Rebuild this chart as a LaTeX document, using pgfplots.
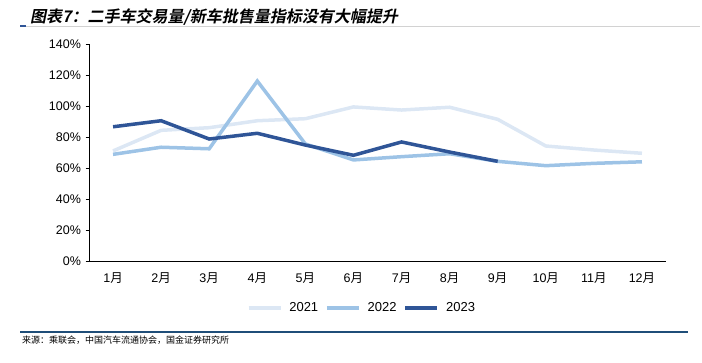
\documentclass[border=0pt]{standalone}
\usepackage{fontspec}
\setmainfont{Liberation Sans}
\newfontfamily\cjk{Noto Sans CJK SC}
\newfontfamily\cjktitle[FakeSlant=0.2]{Noto Sans CJK SC Bold}
\usepackage{pgfplots}
\pgfplotsset{compat=1.18}
\definecolor{c21}{HTML}{DCE7F4}
\definecolor{c22}{HTML}{9DC3E6}
\definecolor{c23}{HTML}{2F5597}
\definecolor{rule}{HTML}{1F4E79}
\begin{document}
\begin{tikzpicture}[x=1pt,y=1pt]
\path[use as bounding box] (0,0) rectangle (702,362);
\node[anchor=west, inner sep=0pt] at (30,345) {\fontsize{16}{18}\cjktitle 图表7：二手车交易量/新车批售量指标没有大幅提升};
\draw[color=gray!35, line width=0.6pt] (22,336) -- (700,336);
\draw[color=c23, line width=1.2pt] (20,336) -- (26,336);
\draw[color=rule, line width=1.6pt] (20,30) -- (688,30);
\node[anchor=west, inner sep=0pt] at (22,22) {\fontsize{9}{10}\cjk 来源：乘联会，中国汽车流通协会，国金证券研究所};
\begin{axis}[
  at={(89pt,101pt)}, anchor=south west,
  scale only axis, width=577pt, height=217pt,
  xmin=0.5, xmax=12.5, ymin=0, ymax=140,
  axis x line=bottom, axis y line=left,
  axis line style={-, black, line width=0.8pt},
  xtick={1,...,12},
  xticklabels={1{\cjk 月},2{\cjk 月},3{\cjk 月},4{\cjk 月},5{\cjk 月},6{\cjk 月},7{\cjk 月},8{\cjk 月},9{\cjk 月},10{\cjk 月},11{\cjk 月},12{\cjk 月}},
  major x tick style={draw=none},
  extra x ticks={1.5,2.5,...,11.5,12.5},
  extra x tick labels={},
  extra x tick style={major tick length=3.5pt, tick align=inside, tick style={black, line width=0.8pt}},
  ytick={0,20,...,140},
  yticklabel={\pgfmathprintnumber{\tick}\%},
  y tick style={black, line width=0.8pt},
  tick align=outside, major tick length=3.5pt,
  ticklabel style={font=\fontsize{12.5}{14}\selectfont},
  /pgf/number format/assume math mode=true,
  xticklabel style={yshift=-5pt},
  yticklabel style={xshift=-1pt},
  legend style={at={(0.473,-0.2166)}, anchor=center, draw=none, legend columns=3,
    font=\fontsize{13}{14}\selectfont, column sep=5pt},
  legend image code/.code={\draw[#1] (0pt,0pt) -- (32pt,0pt);},
  clip=false,
]
\addplot[c21, line width=3.5pt] coordinates {(1,71.0) (2,84.3) (3,86.0) (4,90.5) (5,91.8) (6,99.4) (7,97.4) (8,99.2) (9,91.4) (10,74.2) (11,71.6) (12,69.5)};
\addplot[c22, line width=3.5pt] coordinates {(1,68.8) (2,73.4) (3,72.4) (4,116.1) (5,75.5) (6,65.2) (7,67.3) (8,69.2) (9,64.3) (10,61.5) (11,63.0) (12,64.0)};
\addplot[c23, line width=3.5pt] coordinates {(1,86.6) (2,90.5) (3,78.7) (4,82.4) (5,74.8) (6,68.2) (7,76.8) (8,70.3) (9,64.3)};
\legend{2021,2022,2023}
\end{axis}
\end{tikzpicture}
\end{document}
